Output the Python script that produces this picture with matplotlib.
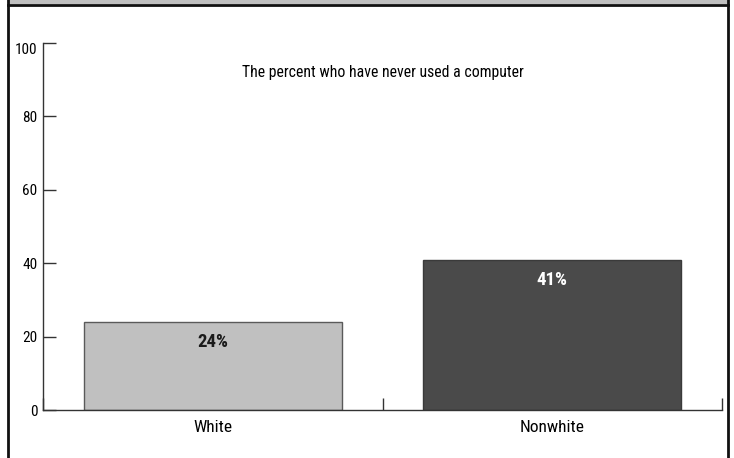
import matplotlib
matplotlib.use("Agg")
import matplotlib.pyplot as plt
from matplotlib import font_manager
from matplotlib.patches import Rectangle
from matplotlib.lines import Line2D

# -----------------------------
# DATA
# -----------------------------
groups = ["White", "Nonwhite"]
never_used_pct = [24, 41]
bar_colors = ["#c0c0c0", "#4a4a4a"]
edge_colors = ["#5a5a5a", "#3a3a3a"]
label_colors = ["#1a1a1a", "#ffffff"]
y_ticks = [0, 20, 40, 60, 80, 100]
title = "The percent who have never used a computer"

# narrow face if there is one
names = {f.name for f in font_manager.fontManager.ttflist}
narrow = [n for n in ["Liberation Sans Narrow", "Roboto Condensed",
                      "Open Sans Condensed", "DejaVu Sans Condensed"] if n in names]
plt.rcParams['font.family'] = narrow + ['DejaVu Sans']
plt.rcParams['font.stretch'] = 'condensed'

W, H = 734, 458
fig = plt.figure(figsize=(W / 100, H / 100), dpi=100)

# axes placed in pixel terms
x0, x1 = 43, 722
y_top, y_bot = 43, 410
ax = fig.add_axes([x0 / W, 1 - y_bot / H, (x1 - x0) / W, (y_bot - y_top) / H])

centers = [0.5 + i for i in range(len(groups))]
for c, v, fc, ec, lc in zip(centers, never_used_pct, bar_colors, edge_colors, label_colors):
    ax.bar(c, v, width=0.76, color=fc, edgecolor=ec, linewidth=1, zorder=2)
    ax.text(c, v - 5.5, f"{v}%", ha="center", va="center",
            fontsize=13.5, fontweight="bold", color=lc)

ax.set_xlim(0, len(groups))
ax.set_ylim(0, 100)
ax.set_yticks(y_ticks)
ax.set_yticklabels([str(t) for t in y_ticks], fontsize=11)
ax.get_yticklabels()[-1].set_va("top")
ax.set_xticks(range(len(groups) + 1))
ax.set_xticklabels([])
ax.set_xticks(centers, minor=True)
ax.set_xticklabels(groups, minor=True, fontsize=12.5)
ax.tick_params(axis="x", which="minor", length=0, pad=7)
ax.tick_params(axis="both", which="major", direction="in", length=9,
               width=1, color="#333333")
ax.tick_params(axis="y", pad=4)
for s in ["top", "right"]:
    ax.spines[s].set_visible(False)
for s in ["left", "bottom"]:
    ax.spines[s].set_color("#333333")
    ax.spines[s].set_linewidth(1)

ax.text(1.0, 92, title, ha="center", va="center", fontsize=11.3)

# frame: grey band on top, black rules
bx0, bx1 = 8 / W, 728 / W
fig.patches.append(Rectangle((bx0, 1 - 4 / H), bx1 - bx0, 4 / H,
                             transform=fig.transFigure, facecolor="#c0c0c0",
                             edgecolor="none"))
fig.lines.append(Line2D([bx0, bx1], [1 - 5 / H, 1 - 5 / H],
                        transform=fig.transFigure, color="#111111", lw=2))
fig.lines.append(Line2D([bx0, bx0], [0, 1], transform=fig.transFigure,
                        color="#111111", lw=2))
fig.lines.append(Line2D([bx1, bx1], [0, 1], transform=fig.transFigure,
                        color="#111111", lw=2))

fig.savefig("out.png", dpi=100)
